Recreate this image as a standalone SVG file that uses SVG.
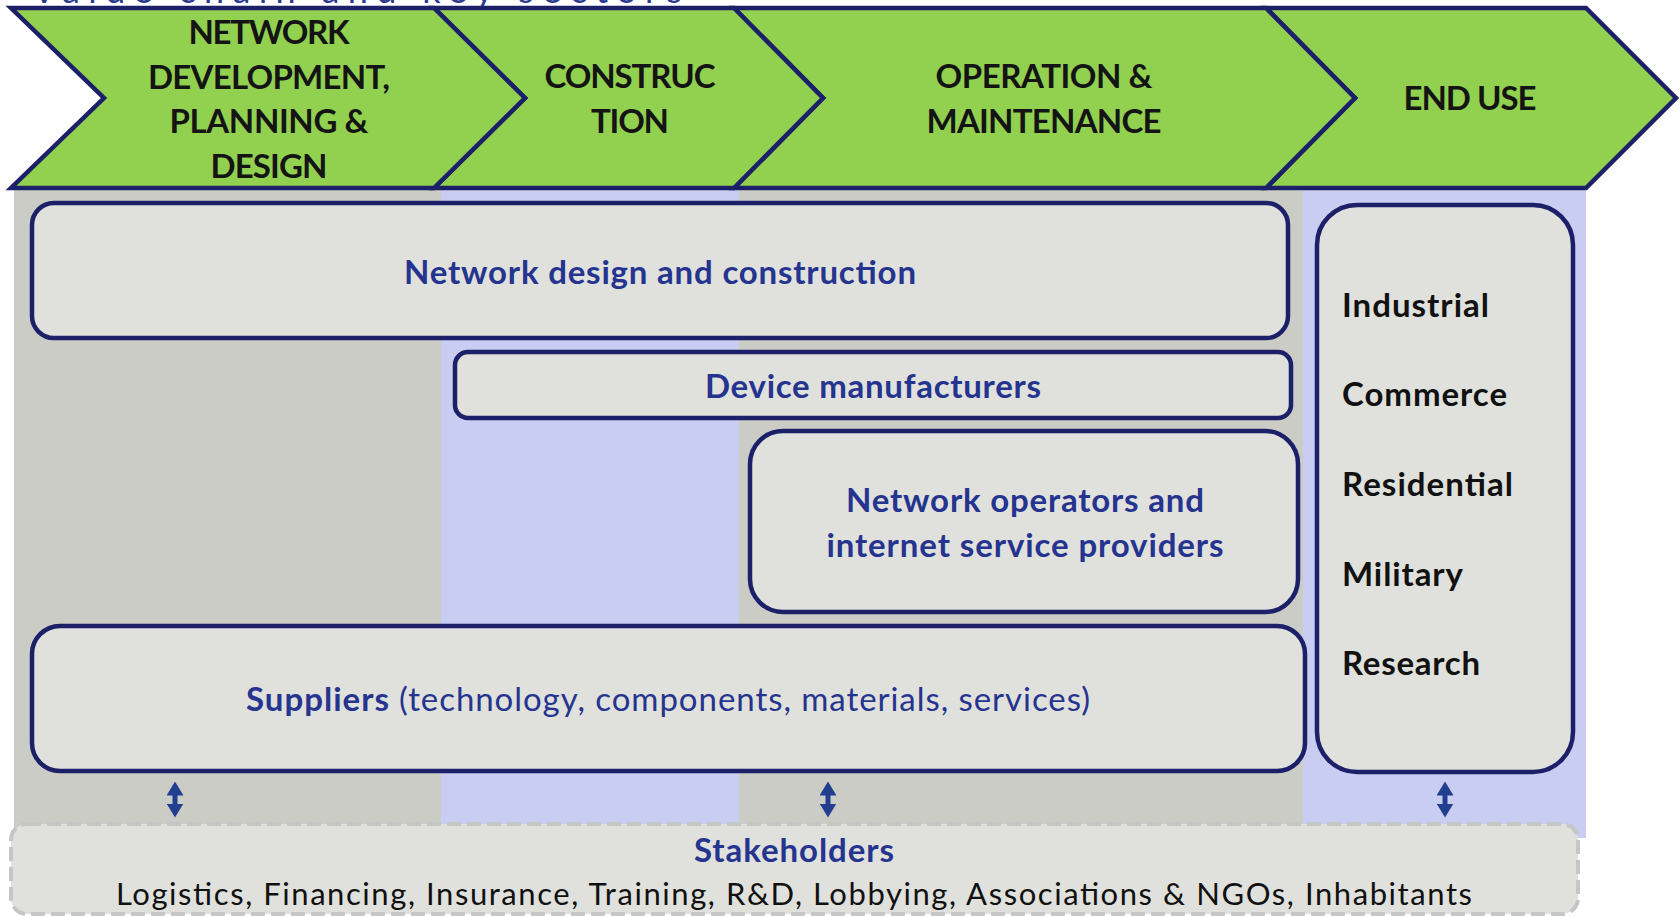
<svg xmlns="http://www.w3.org/2000/svg" width="1680" height="916" viewBox="0 0 1680 916">
<style>
.bg{fill:#ffffff}
.colg{fill:#cbccc6}
.coll{fill:#c9cdf1}
.chev{fill:#92d050;stroke:#1c2068;stroke-width:4.5;stroke-linejoin:miter}
.box{fill:#e0e1dc;stroke:#1c2068;stroke-width:4.5}
.stake{fill:#e0e1dc;stroke:#c3c7c5;stroke-width:4;stroke-dasharray:14 6}
.ph{font-family:Lato,"Open Sans",sans-serif;font-weight:bold;font-size:33px;fill:#141414;text-anchor:middle}
.lbl{font-family:Lato,"Open Sans",sans-serif;font-weight:bold;font-size:33px;fill:#25348f}
.mid{text-anchor:middle}
.use{font-family:Lato,"Open Sans",sans-serif;font-weight:bold;font-size:33px;fill:#111111}
.reg{font-family:Lato,"Open Sans",sans-serif;font-weight:normal;font-size:31px;fill:#111111}
.arr{stroke:#223f8f;stroke-width:5}
</style>
<defs>
<marker id="ah" viewBox="0 0 14 17" refX="0.5" refY="8.5" markerWidth="14" markerHeight="17" markerUnits="userSpaceOnUse" orient="auto-start-reverse">
<path d="M0,0 L14,8.5 L0,17 z" fill="#223f8f"/>
</marker>
</defs>
<rect class="bg" x="0" y="0" width="1680" height="916"/>
<text x="32" y="3" font-family="Lato,'Open Sans',sans-serif" font-size="36" fill="#2b3990" textLength="650">Value chain and key sectors</text>
<g id="columns">
<rect class="colg" x="14" y="189" width="427" height="640"/>
<rect class="coll" x="441" y="189" width="298" height="640"/>
<rect class="colg" x="739" y="189" width="564" height="640"/>
<rect class="coll" x="1303" y="189" width="283" height="649"/>
</g>
<g id="phase-end-use">
<polygon class="chev" points="1266,8 1586,8 1676,98 1586,188 1266,188 1355,98"/>
<text class="ph" x="1470" y="110" textLength="133">END USE</text>
</g>
<g id="phase-operation">
<polygon class="chev" points="734,8 1266,8 1355,98 1266,188 734,188 823,98"/>
<text class="ph" x="1044" y="88" textLength="217">OPERATION &amp;</text>
<text class="ph" x="1044" y="133" textLength="235">MAINTENANCE</text>
</g>
<g id="phase-construction">
<polygon class="chev" points="434,8 734,8 823,98 734,188 434,188 525,98"/>
<text class="ph" x="630" y="88" textLength="171">CONSTRUC</text>
<text class="ph" x="630" y="133" textLength="78">TION</text>
</g>
<g id="phase-network-development">
<polygon class="chev" points="11,8 434,8 525,98 434,188 11,188 104,98"/>
<text class="ph" x="269" y="44" textLength="161">NETWORK</text>
<text class="ph" x="269" y="89" textLength="242">DEVELOPMENT,</text>
<text class="ph" x="269" y="133" textLength="199">PLANNING &amp;</text>
<text class="ph" x="269" y="178" textLength="117">DESIGN</text>
</g>
<g id="network-design-construction">
<rect class="box" x="32" y="203" width="1256" height="135" rx="22"/>
<text class="lbl mid" x="660" y="284" textLength="512">Network design and construction</text>
</g>
<g id="device-manufacturers">
<rect class="box" x="455" y="352" width="836" height="66" rx="13"/>
<text class="lbl mid" x="873" y="398" textLength="336">Device manufacturers</text>
</g>
<g id="network-operators">
<rect class="box" x="750" y="431" width="548" height="181" rx="33"/>
<text class="lbl mid" x="1025" y="512" textLength="358">Network operators and</text>
<text class="lbl mid" x="1025" y="557" textLength="397">internet service providers</text>
</g>
<g id="suppliers">
<rect class="box" x="32" y="626" width="1273" height="145" rx="28"/>
<text class="lbl" y="711"><tspan x="246" textLength="143">Suppliers</tspan><tspan x="399" textLength="691" font-weight="normal">(technology, components, materials, services)</tspan></text>
</g>
<g id="end-use">
<rect class="box" x="1317" y="205" width="256" height="567" rx="40"/>
<text class="use" x="1342" y="317" textLength="147">Industrial</text>
<text class="use" x="1342" y="406" textLength="165">Commerce</text>
<text class="use" x="1342" y="496" textLength="171">Residential</text>
<text class="use" x="1342" y="586" textLength="121">Military</text>
<text class="use" x="1342" y="675" textLength="138">Research</text>
</g>
<g id="stakeholders">
<rect class="stake" x="11" y="824" width="1567" height="90" rx="16"/>
<text class="lbl mid" x="794" y="862" textLength="200">Stakeholders</text>
<text class="reg mid" x="794" y="905" textLength="1356">Logistics, Financing, Insurance, Training, R&amp;D, Lobbying, Associations &amp; NGOs, Inhabitants</text>
</g>
<g id="connectors">
<line class="arr" x1="175" y1="795" x2="175" y2="804" marker-start="url(#ah)" marker-end="url(#ah)"/>
<line class="arr" x1="828" y1="795" x2="828" y2="804" marker-start="url(#ah)" marker-end="url(#ah)"/>
<line class="arr" x1="1445" y1="795" x2="1445" y2="804" marker-start="url(#ah)" marker-end="url(#ah)"/>
</g>
</svg>
